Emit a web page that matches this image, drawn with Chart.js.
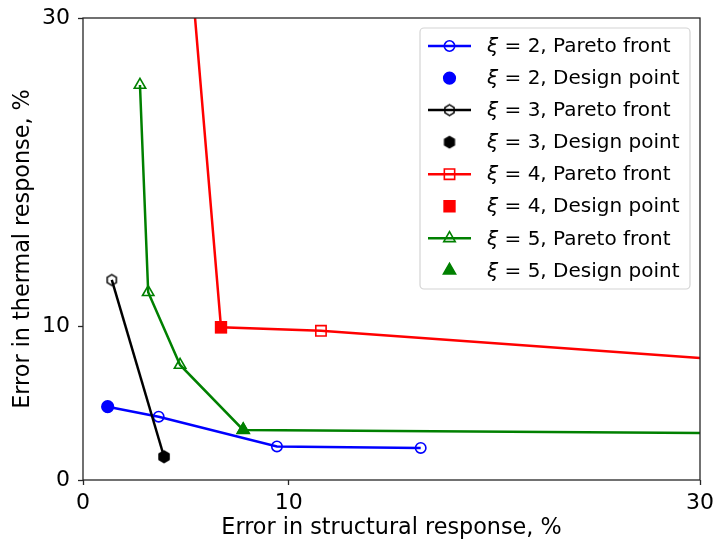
<!DOCTYPE html>
<html><head><meta charset="utf-8">
<script src="https://cdn.jsdelivr.net/npm/chart.js@4.4.0/dist/chart.umd.min.js"></script>
<style>html,body{margin:0;padding:0;background:#fff;}</style>
</head><body>
<canvas id="c" width="714" height="543" style="width:714px;height:543px;display:block"></canvas>
<script>
// ---- data ----
const xTicks = [0, 10, 30];
const yTicks = [0, 10, 30];
const xi2Pareto = [{x:1.20,y:4.76},{x:3.68,y:4.11},{x:9.43,y:2.18},{x:16.42,y:2.08}];
const xi2Design = [{x:1.20,y:4.76}];
const xi3Pareto = [{x:1.40,y:12.99},{x:3.94,y:1.51}];
const xi3Design = [{x:3.94,y:1.51}];
const xi4Pareto = [{x:4.82,y:40.0},{x:6.71,y:9.92},{x:11.57,y:9.69},{x:40.0,y:6.96}];
const xi4Design = [{x:6.71,y:9.92}];
const xi5Pareto = [{x:2.77,y:25.65},{x:3.17,y:12.19},{x:4.72,y:7.47},{x:7.79,y:3.25},{x:40.0,y:2.96}];
const xi5Design = [{x:7.79,y:3.25}];
const legendLabels = [
  ['2','Pareto front'],['2','Design point'],
  ['3','Pareto front'],['3','Design point'],
  ['4','Pareto front'],['4','Design point'],
  ['5','Pareto front'],['5','Design point']
];
const xTitle = 'Error in structural response, %';
const yTitle = 'Error in thermal response, %';

const FONT = "'DejaVu Sans', sans-serif";
const BLUE='#0000ff', BLACK='#000000', RED='#ff0000', GREEN='#008000';

function hexImg(filled, color, R){
  const s = Math.ceil(R*2+4);
  const cv = document.createElement('canvas'); cv.width=s; cv.height=s;
  const g = cv.getContext('2d');
  g.beginPath();
  for(let i=0;i<6;i++){
    const a = -Math.PI/2 + i*Math.PI/3;
    const px = s/2 + R*Math.cos(a), py = s/2 + R*Math.sin(a);
    if(i===0) g.moveTo(px,py); else g.lineTo(px,py);
  }
  g.closePath();
  if(filled){ g.fillStyle=color; g.fill(); }
  g.lineWidth=1.5; g.strokeStyle=color; g.stroke();
  return cv;
}
const hexOpen = hexImg(false, BLACK, 5.3);
const hexFill = hexImg(true, BLACK, 5.6);

const styles = [
  {c:BLUE, line:true, ps:'circle', r:5.2, fill:false},
  {c:BLUE, line:false, ps:'circle', r:5.8, fill:true},
  {c:BLACK, line:true, ps:hexOpen, r:5.5, fill:false},
  {c:BLACK, line:false, ps:hexFill, r:5.5, fill:true},
  {c:RED, line:true, ps:'rect', r:7.3, fill:false},
  {c:RED, line:false, ps:'rect', r:7.6, fill:true},
  {c:GREEN, line:true, ps:'triangle', r:6.6, fill:false},
  {c:GREEN, line:false, ps:'triangle', r:7.0, fill:true}
];
const seriesData = [xi2Pareto, xi2Design, xi3Pareto, xi3Design, xi4Pareto, xi4Design, xi5Pareto, xi5Design];

const datasets = seriesData.map((d,i)=>{
  const s = styles[i];
  return {
    label: 'ξ = '+legendLabels[i][0]+', '+legendLabels[i][1],
    data: d,
    showLine: s.line,
    borderColor: s.c,
    borderWidth: 2.5,
    pointStyle: s.ps,
    pointRadius: s.r,
    pointHoverRadius: s.r,
    pointBorderWidth: 1.6,
    pointBorderColor: s.c,
    pointBackgroundColor: s.fill ? s.c : 'rgba(0,0,0,0)',
    order: 10 - i
  };
});

function drawMarker(ctx, s, x, y){
  ctx.save();
  ctx.lineWidth = 1.6;
  ctx.strokeStyle = s.c;
  ctx.fillStyle = s.fill ? s.c : 'rgba(0,0,0,0)';
  Chart.helpers.drawPoint(ctx, {pointStyle: s.ps, radius: s.r, rotation: 0, borderWidth: 1.6}, x, y);
  ctx.restore();
}

const framePlugin = {
  id:'frame',
  afterDatasetsDraw(chart){
    const a = chart.chartArea, ctx = chart.ctx;
    ctx.save();
    ctx.strokeStyle = '#262626';
    ctx.lineWidth = 1.3;
    ctx.strokeRect(a.left, a.top, a.right-a.left, a.bottom-a.top);
    ctx.restore();
  },
  afterDraw(chart){
    const ctx = chart.ctx;
    const bx=420, by=28, bw=270, bh=261, rr=4;
    ctx.save();
    ctx.beginPath();
    ctx.moveTo(bx+rr,by); ctx.lineTo(bx+bw-rr,by); ctx.arcTo(bx+bw,by,bx+bw,by+rr,rr);
    ctx.lineTo(bx+bw,by+bh-rr); ctx.arcTo(bx+bw,by+bh,bx+bw-rr,by+bh,rr);
    ctx.lineTo(bx+rr,by+bh); ctx.arcTo(bx,by+bh,bx,by+bh-rr,rr);
    ctx.lineTo(bx,by+rr); ctx.arcTo(bx,by,bx+rr,by,rr); ctx.closePath();
    ctx.fillStyle='rgba(255,255,255,0.8)'; ctx.fill();
    ctx.strokeStyle='#d4d4d4'; ctx.lineWidth=1.2; ctx.stroke();
    for(let i=0;i<legendLabels.length;i++){
      const s = styles[i];
      const cy = 46 + i*32.05;
      if(s.line){
        ctx.beginPath(); ctx.moveTo(428,cy); ctx.lineTo(471,cy);
        ctx.strokeStyle=s.c; ctx.lineWidth=2.5; ctx.stroke();
      }
      drawMarker(ctx, s, 449.5, cy);
      ctx.fillStyle='#000';
      ctx.textBaseline='middle';
      ctx.textAlign='left';
      ctx.font = "italic 20px "+FONT;
      ctx.fillText('ξ', 487, cy+1);
      const w = ctx.measureText('ξ').width;
      ctx.font = "20px "+FONT;
      ctx.fillText(' = '+legendLabels[i][0]+', '+legendLabels[i][1], 487+w, cy+1);
    }
    ctx.restore();
  }
};

new Chart(document.getElementById('c'), {
  type:'scatter',
  data:{datasets},
  plugins:[framePlugin],
  options:{
    responsive:false,
    animation:false,
    devicePixelRatio:1,
    layout:{padding:{left:0,right:14,top:18,bottom:0}},
    plugins:{legend:{display:false}, tooltip:{enabled:false}},
    scales:{
      x:{
        type:'linear', min:0, max:30,
        afterBuildTicks:(s)=>{ s.ticks = xTicks.map(v=>({value:v})); },
        afterFit:(s)=>{ s.height = 63; s.paddingLeft = 0; s.paddingRight = 0; s.paddingTop = 0; s.paddingBottom = 0; },
        grid:{drawOnChartArea:false, drawTicks:true, tickLength:5, tickColor:'#262626', tickWidth:1.3},
        border:{display:false},
        ticks:{font:{size:22,family:FONT}, color:'#000', padding:5, maxRotation:0, autoSkip:false},
        title:{display:true, text:xTitle, font:{size:22.3,family:FONT}, color:'#000', padding:{top:0,bottom:1}}
      },
      y:{
        type:'linear', min:0, max:30,
        afterBuildTicks:(s)=>{ s.ticks = yTicks.map(v=>({value:v})); },
        afterFit:(s)=>{ s.width = 83; s.paddingLeft = 0; s.paddingRight = 0; s.paddingTop = 0; s.paddingBottom = 0; },
        grid:{drawOnChartArea:false, drawTicks:true, tickLength:5, tickColor:'#262626', tickWidth:1.3},
        border:{display:false},
        ticks:{font:{size:22,family:FONT}, color:'#000', padding:8, autoSkip:false},
        title:{display:true, text:yTitle, font:{size:22.3,family:FONT}, color:'#000', padding:{top:10,bottom:0}}
      }
    }
  }
});
</script>
</body></html>
